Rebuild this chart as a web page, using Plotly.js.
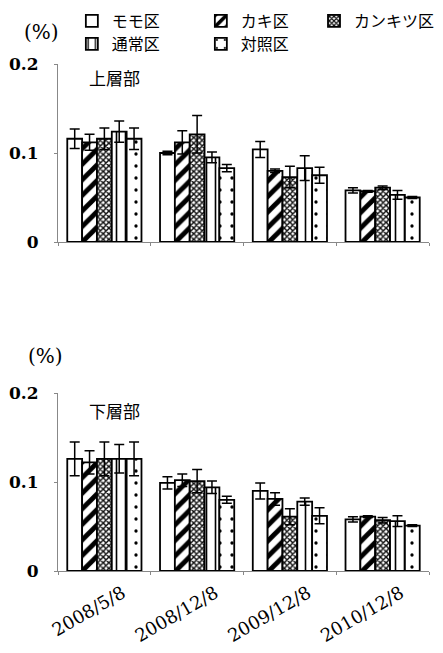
<!DOCTYPE html>
<html><head><meta charset="utf-8">
<script src="https://cdn.plot.ly/plotly-3.0.1.min.js"></script>
<style>body{margin:0;padding:0;background:#fff}#c{width:443px;height:653px}</style>
</head><body><div id="c"></div>
<script>
const categories = ['2008/5/8','2008/12/8','2009/12/8','2010/12/8'];
const seriesNames = ['モモ区','カキ区','カンキツ区','通常区','対照区'];
// 上層部 (upper layer)
const momoUpper = [0.116, 0.100, 0.104, 0.058];
const momoUpperErr = [0.011, 0.002, 0.009, 0.003];
const kakiUpper = [0.112, 0.112, 0.080, 0.057];
const kakiUpperErr = [0.009, 0.013, 0.002, 0.001];
const kankitsuUpper = [0.116, 0.121, 0.073, 0.061];
const kankitsuUpperErr = [0.012, 0.021, 0.012, 0.002];
const tsujoUpper = [0.124, 0.095, 0.083, 0.053];
const tsujoUpperErr = [0.012, 0.006, 0.014, 0.005];
const taishoUpper = [0.116, 0.083, 0.075, 0.050];
const taishoUpperErr = [0.012, 0.004, 0.009, 0.001];
// 下層部 (lower layer)
const momoLower = [0.126, 0.099, 0.090, 0.058];
const momoLowerErr = [0.019, 0.007, 0.009, 0.003];
const kakiLower = [0.122, 0.102, 0.081, 0.061];
const kakiLowerErr = [0.013, 0.007, 0.007, 0.001];
const kankitsuLower = [0.126, 0.101, 0.061, 0.057];
const kankitsuLowerErr = [0.019, 0.013, 0.009, 0.003];
const tsujoLower = [0.126, 0.094, 0.078, 0.056];
const tsujoLowerErr = [0.016, 0.007, 0.004, 0.006];
const taishoLower = [0.126, 0.080, 0.062, 0.051];
const taishoLowerErr = [0.019, 0.004, 0.009, 0.001];
const yTickVals = [0, 0.1, 0.2];
const yTickText = ['0', '0.1', '0.2'];

const upper = [[momoUpper,momoUpperErr],[kakiUpper,kakiUpperErr],[kankitsuUpper,kankitsuUpperErr],[tsujoUpper,tsujoUpperErr],[taishoUpper,taishoUpperErr]];
const lower = [[momoLower,momoLowerErr],[kakiLower,kakiLowerErr],[kankitsuLower,kankitsuLowerErr],[tsujoLower,tsujoLowerErr],[taishoLower,taishoLowerErr]];
const patterns = [
  {shape:''},
  {shape:'/', size:11, solidity:0.45, fgcolor:'#000', bgcolor:'#fff'},
  {shape:'x', size:4, solidity:0.6, fgcolor:'#111', bgcolor:'#fff'},
  {shape:'|', size:9, solidity:0.18, fgcolor:'#000', bgcolor:'#fff'},
  {shape:'.', size:12, solidity:0.06, fgcolor:'#000', bgcolor:'#fff'}
];
const legendFor = ['legend','legend','legend2','legend3','legend3'];
const traces = [];
function mk(set, xa, ya, show){
  set.forEach((s,i)=>{
    traces.push({
      type:'bar', x:categories, y:s[0], name:seriesNames[i], xaxis:xa, yaxis:ya,
      showlegend:show, legend:legendFor[i],
      marker:{color:'#fff', line:{color:'#000', width:1.8}, pattern:patterns[i]},
      error_y:{type:'data', array:s[1], visible:true, color:'#000', thickness:1.5, width:5}
    });
  });
}
mk(upper,'x','y',true);
mk(lower,'x2','y2',false);

const serif = 'DejaVu Serif';
const yaxisBase = {range:[0,0.2], tickvals:yTickVals, ticktext:yTickText, showline:true, linecolor:'#888', linewidth:1,
  ticks:'outside', ticklen:3, tickcolor:'#888', showgrid:false, zeroline:false,
  tickfont:{family:serif, size:17, color:'#000', weight:'bold'}, ticklabelstandoff:12, automargin:false};
const xaxisBase = {type:'category', showline:true, linecolor:'#888', linewidth:1, ticks:'outside', ticklen:3, tickcolor:'#888',
  tickson:'boundaries', showgrid:false, automargin:false};
const cjk = 'Noto Sans CJK JP';
const px = v => (v-58)/375;
const py = v => 1 - v/653;
const legBase = {orientation:'h', xanchor:'left', yanchor:'top', entrywidth:84, entrywidthmode:'pixels',
    font:{family:cjk, size:16, color:'#000'}, itemwidth:30, tracegroupgap:0, bgcolor:'rgba(0,0,0,0)'};
const layout = {
  width:443, height:653, margin:{l:58, r:10, t:0, b:0}, paper_bgcolor:'#fff', plot_bgcolor:'#fff',
  barmode:'group', bargap:0.2, bargroupgap:0,
  xaxis:Object.assign({}, xaxisBase, {anchor:'y', showticklabels:false}),
  yaxis:Object.assign({}, yaxisBase, {domain:[py(242), py(64)], anchor:'x'}),
  xaxis2:Object.assign({}, xaxisBase, {anchor:'y2', tickangle:-30, ticklabelshift:18, ticklabelstandoff:4,
    tickfont:{family:serif, size:18, color:'#000'}}),
  yaxis2:Object.assign({}, yaxisBase, {domain:[py(571), py(393)], anchor:'x2'}),
  legend:Object.assign({}, legBase, {x:px(72), y:py(4)}),
  legend2:Object.assign({}, legBase, {x:px(317), y:py(4)}),
  legend3:Object.assign({}, legBase, {x:px(72), y:py(27)}),
  annotations:[
    {text:'(%)', xref:'paper', yref:'paper', x:px(41), y:py(32), xanchor:'center', yanchor:'middle', showarrow:false, font:{family:serif, size:20, color:'#000'}},
    {text:'(%)', xref:'paper', yref:'paper', x:px(45), y:py(356), xanchor:'center', yanchor:'middle', showarrow:false, font:{family:serif, size:20, color:'#000'}},
    {text:'上層部', xref:'paper', yref:'paper', x:px(87), y:py(77), xanchor:'left', yanchor:'middle', showarrow:false, font:{family:cjk, size:17, color:'#000'}},
    {text:'下層部', xref:'paper', yref:'paper', x:px(87), y:py(410), xanchor:'left', yanchor:'middle', showarrow:false, font:{family:cjk, size:17, color:'#000'}}
  ]
};
Plotly.newPlot('c', traces, layout, {displayModeBar:false, staticPlot:true});
</script></body></html>
